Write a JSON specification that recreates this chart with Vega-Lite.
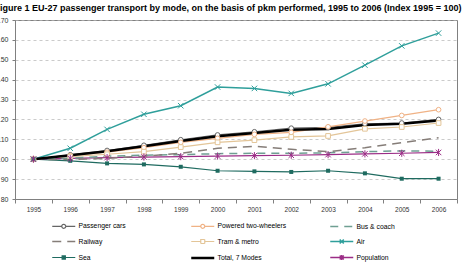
{
"$schema": "https://vega.github.io/schema/vega-lite/v6.json",
"width": 442, "height": 179,
"autosize": {"type": "none"},
"padding": {"left": 15, "top": 20, "right": 6, "bottom": 69},
"background": "white",
"title": {"text": "Figure 1  EU-27 passenger transport by mode, on the basis of pkm performed, 1995 to 2006 (Index 1995 = 100)", "anchor": "start", "frame": "group", "dx": -20.5, "offset": 3, "font": "Liberation Sans", "fontSize": 9, "fontWeight": "bold", "color": "#000000"},
"config": {"view": {"stroke": "#808080", "strokeWidth": 1}, "font": "Liberation Sans"},
"data": {"values": [
{"year":1995,"mode":"Passenger cars","value":100},{"year":1996,"mode":"Passenger cars","value":102.2},{"year":1997,"mode":"Passenger cars","value":104.4},{"year":1998,"mode":"Passenger cars","value":107.0},{"year":1999,"mode":"Passenger cars","value":109.8},{"year":2000,"mode":"Passenger cars","value":112.2},{"year":2001,"mode":"Passenger cars","value":113.8},{"year":2002,"mode":"Passenger cars","value":115.6},{"year":2003,"mode":"Passenger cars","value":116.0},{"year":2004,"mode":"Passenger cars","value":117.8},{"year":2005,"mode":"Passenger cars","value":118.2},{"year":2006,"mode":"Passenger cars","value":120.0},
{"year":1995,"mode":"Powered two-wheelers","value":100},{"year":1996,"mode":"Powered two-wheelers","value":101.8},{"year":1997,"mode":"Powered two-wheelers","value":103.5},{"year":1998,"mode":"Powered two-wheelers","value":105.8},{"year":1999,"mode":"Powered two-wheelers","value":108.5},{"year":2000,"mode":"Powered two-wheelers","value":110.5},{"year":2001,"mode":"Powered two-wheelers","value":112.5},{"year":2002,"mode":"Powered two-wheelers","value":113.5},{"year":2003,"mode":"Powered two-wheelers","value":116.3},{"year":2004,"mode":"Powered two-wheelers","value":119.2},{"year":2005,"mode":"Powered two-wheelers","value":122.0},{"year":2006,"mode":"Powered two-wheelers","value":124.9},
{"year":1995,"mode":"Bus & coach","value":100},{"year":1996,"mode":"Bus & coach","value":100.5},{"year":1997,"mode":"Bus & coach","value":101.5},{"year":1998,"mode":"Bus & coach","value":102.0},{"year":1999,"mode":"Bus & coach","value":102.3},{"year":2000,"mode":"Bus & coach","value":102.8},{"year":2001,"mode":"Bus & coach","value":103.0},{"year":2002,"mode":"Bus & coach","value":103.0},{"year":2003,"mode":"Bus & coach","value":103.2},{"year":2004,"mode":"Bus & coach","value":103.8},{"year":2005,"mode":"Bus & coach","value":104.2},{"year":2006,"mode":"Bus & coach","value":104.0},
{"year":1995,"mode":"Railway","value":100},{"year":1996,"mode":"Railway","value":99.8},{"year":1997,"mode":"Railway","value":100.5},{"year":1998,"mode":"Railway","value":101.5},{"year":1999,"mode":"Railway","value":103.0},{"year":2000,"mode":"Railway","value":105.5},{"year":2001,"mode":"Railway","value":106.5},{"year":2002,"mode":"Railway","value":105.0},{"year":2003,"mode":"Railway","value":103.8},{"year":2004,"mode":"Railway","value":105.8},{"year":2005,"mode":"Railway","value":108.3},{"year":2006,"mode":"Railway","value":110.8},
{"year":1995,"mode":"Tram & metro","value":100},{"year":1996,"mode":"Tram & metro","value":101.3},{"year":1997,"mode":"Tram & metro","value":102.5},{"year":1998,"mode":"Tram & metro","value":103.8},{"year":1999,"mode":"Tram & metro","value":106.1},{"year":2000,"mode":"Tram & metro","value":108.5},{"year":2001,"mode":"Tram & metro","value":109.6},{"year":2002,"mode":"Tram & metro","value":111.2},{"year":2003,"mode":"Tram & metro","value":111.7},{"year":2004,"mode":"Tram & metro","value":115.3},{"year":2005,"mode":"Tram & metro","value":116.2},{"year":2006,"mode":"Tram & metro","value":118.2},
{"year":1995,"mode":"Air","value":100},{"year":1996,"mode":"Air","value":105.5},{"year":1997,"mode":"Air","value":115.0},{"year":1998,"mode":"Air","value":122.6},{"year":1999,"mode":"Air","value":126.9},{"year":2000,"mode":"Air","value":136.3},{"year":2001,"mode":"Air","value":135.6},{"year":2002,"mode":"Air","value":133.1},{"year":2003,"mode":"Air","value":137.9},{"year":2004,"mode":"Air","value":147.3},{"year":2005,"mode":"Air","value":157.0},{"year":2006,"mode":"Air","value":163.4},
{"year":1995,"mode":"Sea","value":100},{"year":1996,"mode":"Sea","value":99.2},{"year":1997,"mode":"Sea","value":97.9},{"year":1998,"mode":"Sea","value":97.4},{"year":1999,"mode":"Sea","value":96.2},{"year":2000,"mode":"Sea","value":94.2},{"year":2001,"mode":"Sea","value":93.9},{"year":2002,"mode":"Sea","value":93.6},{"year":2003,"mode":"Sea","value":94.2},{"year":2004,"mode":"Sea","value":92.9},{"year":2005,"mode":"Sea","value":90.2},{"year":2006,"mode":"Sea","value":90.2},
{"year":1995,"mode":"Total, 7 Modes","value":100},{"year":1996,"mode":"Total, 7 Modes","value":102.0},{"year":1997,"mode":"Total, 7 Modes","value":104.0},{"year":1998,"mode":"Total, 7 Modes","value":106.5},{"year":1999,"mode":"Total, 7 Modes","value":109.2},{"year":2000,"mode":"Total, 7 Modes","value":111.5},{"year":2001,"mode":"Total, 7 Modes","value":113.2},{"year":2002,"mode":"Total, 7 Modes","value":114.8},{"year":2003,"mode":"Total, 7 Modes","value":115.2},{"year":2004,"mode":"Total, 7 Modes","value":117.2},{"year":2005,"mode":"Total, 7 Modes","value":117.8},{"year":2006,"mode":"Total, 7 Modes","value":119.5},
{"year":1995,"mode":"Population","value":100},{"year":1996,"mode":"Population","value":100.4},{"year":1997,"mode":"Population","value":100.8},{"year":1998,"mode":"Population","value":101.1},{"year":1999,"mode":"Population","value":101.3},{"year":2000,"mode":"Population","value":101.6},{"year":2001,"mode":"Population","value":101.8},{"year":2002,"mode":"Population","value":102.0},{"year":2003,"mode":"Population","value":102.3},{"year":2004,"mode":"Population","value":102.7},{"year":2005,"mode":"Population","value":103.0},{"year":2006,"mode":"Population","value":103.4}
]},
"encoding": {
  "x": {"field": "year", "type": "ordinal", "scale": {"type": "band", "paddingInner": 0, "paddingOuter": 0},
        "axis": {"title": null, "labelAngle": 0, "tickBand": "extent", "tickSize": 4, "domainColor": "#808080", "tickColor": "#808080", "labelFontSize": 6.5, "labelPadding": 3, "labelColor": "#333333", "grid": false}},
  "y": {"field": "value", "type": "quantitative", "scale": {"domain": [80, 170], "nice": false, "zero": false},
        "axis": {"title": null, "values": [80,90,100,110,120,130,140,150,160,170], "format": "d", "grid": true, "gridDash": [3,3], "gridColor": "#b4b4b4", "gridWidth": 0.7, "domainColor": "#808080", "tickColor": "#808080", "tickSize": 3, "labelPadding": 4, "labelFontSize": 7, "labelColor": "#333333"}},
  "color": {"field": "mode", "type": "nominal", "legend": null,
    "scale": {"domain": ["Air","Bus & coach","Passenger cars","Population","Powered two-wheelers","Railway","Sea","Total, 7 Modes","Tram & metro"],
              "range": ["#2f9f9b","#6f9f92","#666666","#9b2d86","#f0b285","#857d78","#1f6b60","#000000","#e3c598"]}}
},
"layer": [
  {"transform": [{"filter": {"field": "mode", "oneOf": ["Passenger cars","Powered two-wheelers","Tram & metro","Sea","Population"]}}],
   "mark": {"type": "line", "strokeWidth": 1.2}},
  {"transform": [{"filter": {"field": "mode", "equal": "Air"}}],
   "mark": {"type": "line", "strokeWidth": 1.5}},
  {"transform": [{"filter": {"field": "mode", "equal": "Bus & coach"}}],
   "mark": {"type": "line", "strokeWidth": 1.5, "strokeDash": [8, 6]}},
  {"transform": [{"filter": {"field": "mode", "equal": "Railway"}}],
   "mark": {"type": "line", "strokeWidth": 1.5, "strokeDash": [9, 6]}},
  {"transform": [{"filter": {"field": "mode", "equal": "Total, 7 Modes"}}],
   "mark": {"type": "line", "strokeWidth": 2.5}},
  {"transform": [{"filter": {"field": "mode", "oneOf": ["Passenger cars","Powered two-wheelers"]}}],
   "mark": {"type": "point", "shape": "circle", "size": 22, "filled": false, "fill": "#ffffff", "strokeWidth": 1, "opacity": 1}},
  {"transform": [{"filter": {"field": "mode", "equal": "Tram & metro"}}],
   "mark": {"type": "point", "shape": "square", "size": 22, "filled": false, "fill": "#ffffff", "strokeWidth": 1, "opacity": 1}},
  {"transform": [{"filter": {"field": "mode", "equal": "Sea"}}],
   "mark": {"type": "point", "shape": "square", "size": 16, "filled": true, "opacity": 1}},
  {"transform": [{"filter": {"field": "mode", "equal": "Air"}}],
   "mark": {"type": "point", "shape": "M-1,-1L1,1M-1,1L1,-1", "size": 30, "filled": false, "strokeWidth": 1, "opacity": 1}},
  {"transform": [{"filter": {"field": "mode", "equal": "Population"}}],
   "mark": {"type": "point", "shape": "M-1,-1L1,1M-1,1L1,-1M0,-1.3L0,1.3", "size": 30, "filled": false, "strokeWidth": 1, "opacity": 1}},
  {"transform": [{"filter": {"field": "year", "equal": 0}}],
   "mark": {"type": "point", "opacity": 1},
   "encoding": {
     "color": null,
     "shape": {"field": "mode", "type": "nominal",
       "scale": {"domain": ["Passenger cars","Powered two-wheelers","Bus & coach","Railway","Tram & metro","Air","Sea","Total, 7 Modes","Population"],
                 "range": ["M-2.875,0H-0.5M0.5,0H2.875M-0.5,0A0.5,0.5 0 1 0 0.5,0A0.5,0.5 0 1 0 -0.5,0Z",
                           "M-2.875,0H-0.5M0.5,0H2.875M-0.5,0A0.5,0.5 0 1 0 0.5,0A0.5,0.5 0 1 0 -0.5,0Z",
                           "M-2.875,0H2.875",
                           "M-2.875,0H2.875",
                           "M-2.875,0H-0.5M0.5,0H2.875M-0.5,-0.5H0.5V0.5H-0.5Z",
                           "M-2.875,0H2.875M-0.5,-0.5L0.5,0.5M-0.5,0.5L0.5,-0.5",
                           "M-2.875,0H-0.4M0.4,0H2.875M-0.4,-0.4H0.4V0.4H-0.4Z",
                           "M-2.875,0H2.875",
                           "M-2.875,0H2.875M-0.5,-0.5L0.5,0.5M-0.5,0.5L0.5,-0.5M0,-0.6V0.6"]},
       "legend": {"title": null, "orient": "none", "direction": "horizontal", "legendX": 43.25, "legendY": 200.5, "columns": 3, "gridAlign": "all", "columnPadding": 38, "rowPadding": 4, "symbolSize": 64, "labelOffset": 9.25, "labelFontSize": 6.8, "labelColor": "#000000", "padding": 0, "labelLimit": 0, "symbolOpacity": 1}},
     "stroke": {"field": "mode", "type": "nominal", "legend": {"title": null},
       "scale": {"domain": ["Passenger cars","Powered two-wheelers","Bus & coach","Railway","Tram & metro","Air","Sea","Total, 7 Modes","Population"], "range": ["#666666","#f0b285","#6f9f92","#857d78","#e3c598","#2f9f9b","#1f6b60","#000000","#9b2d86"]}},
     "fill": {"field": "mode", "type": "nominal", "legend": {"title": null},
       "scale": {"domain": ["Passenger cars","Powered two-wheelers","Bus & coach","Railway","Tram & metro","Air","Sea","Total, 7 Modes","Population"], "range": ["#ffffff","#ffffff","transparent","transparent","#ffffff","transparent","#1f6b60","transparent","#9b2d86"]}},
     "strokeDash": {"field": "mode", "type": "nominal", "legend": {"title": null},
       "scale": {"domain": ["Passenger cars","Powered two-wheelers","Bus & coach","Railway","Tram & metro","Air","Sea","Total, 7 Modes","Population"], "range": [[1,0],[1,0],[8,6],[9,6],[1,0],[1,0],[1,0],[1,0],[1,0]]}},
     "strokeWidth": {"field": "mode", "type": "nominal", "legend": {"title": null},
       "scale": {"type": "ordinal", "domain": ["Passenger cars","Powered two-wheelers","Bus & coach","Railway","Tram & metro","Air","Sea","Total, 7 Modes","Population"], "range": [1.2,1.2,1.5,1.5,1.2,1.5,1.2,2.5,1.4]}}
   }}
]
}
